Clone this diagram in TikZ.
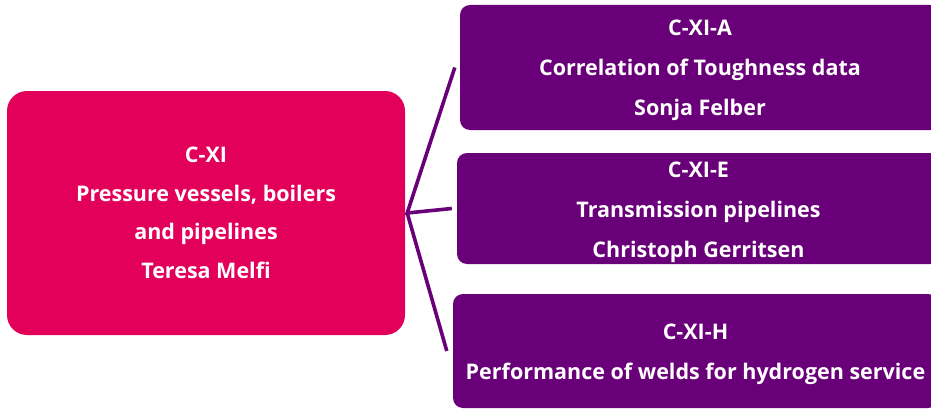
\documentclass[tikz,border=0pt]{standalone}
\usepackage{fontspec}
\setmainfont{Open Sans}
\usetikzlibrary{calc}
\definecolor{pinkc}{HTML}{E2005A}
\definecolor{purc}{HTML}{6A0079}
\begin{document}
\begin{tikzpicture}[x=1pt,y=1pt,
  mainbox/.style={fill=pinkc, rounded corners=20pt, inner sep=0pt},
  subbox/.style={fill=purc, rounded corners=10pt, inner sep=0pt},
  maintext/.style={text=white, align=center, inner sep=0pt,
    font=\fontsize{21.5}{38.5}\selectfont\bfseries},
  subtext/.style={text=white, align=center, inner sep=0pt,
    font=\fontsize{21.5}{40}\selectfont\bfseries},
  link/.style={draw=purc, line width=3.6pt}]
\useasboundingbox (0,0) rectangle (931,408);
\clip (0,0) rectangle (931,408);
\node[mainbox, minimum width=398pt, minimum height=244pt] (m) at (206,195) {};
\node[subbox, minimum width=480pt, minimum height=125pt] (a) at (700,340.5) {};
\node[subbox, minimum width=483pt, minimum height=111pt] (e) at (698.5,199.5) {};
\node[subbox, minimum width=485pt, minimum height=114pt] (h) at (695.5,57) {};
\node[maintext] (mt) at (m.center)
  {C-XI\\Pressure vessels, boilers\\and pipelines\\Teresa Melfi};
\node[subtext] (at) at ($(a.center)+(0,-2.5)$)
  {C-XI-A\\Correlation of Toughness data\\Sonja Felber};
\node[subtext] (et) at ($(e.center)+(0,-4)$)
  {C-XI-E\\Transmission pipelines\\Christoph Gerritsen};
\node[subtext] (ht) at ($(h.center)+(0,-3)$)
  {C-XI-H\\Performance of welds for hydrogen service};
\coordinate (hub) at ($(m.east)+(2,0)$);
\coordinate (ea) at ($(a.west)+(-5,0)$);
\coordinate (ee) at ($(e.west)+(-5,0)$);
\coordinate (eh) at ($(h.west)+(-6,0)$);
\draw[link] (ea) -- (hub) -- (ee);
\draw[link] (hub) -- (eh);
\end{tikzpicture}
\end{document}
